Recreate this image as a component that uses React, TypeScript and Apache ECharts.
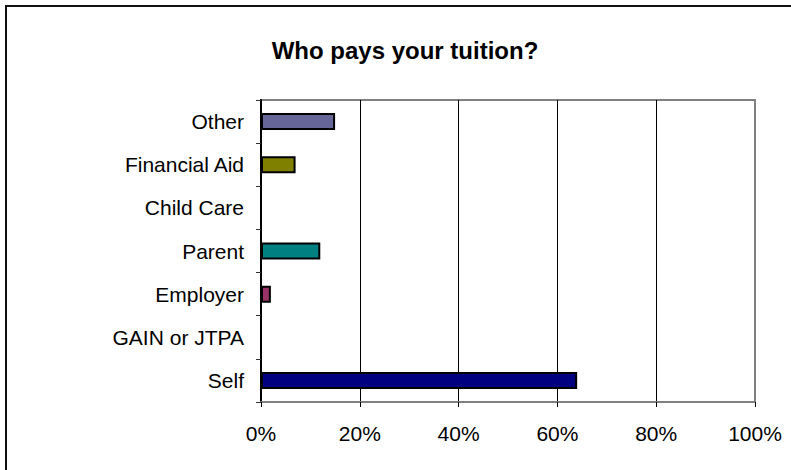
import React, { useEffect, useRef } from "react";
import * as echarts from "echarts";

const titleText = "Who pays your tuition?";
const categories = ["Self", "GAIN or JTPA", "Employer", "Parent", "Child Care", "Financial Aid", "Other"];
const values = [64, 0, 2, 12, 0, 7, 15];
const barColors = ["#000080", "#808080", "#993366", "#008080", "#808080", "#808000", "#666699"];
const xTicks = [0, 20, 40, 60, 80, 100];

export default function App() {
  const ref = useRef<HTMLDivElement>(null);
  useEffect(() => {
    if (!ref.current) return;
    const chart = echarts.init(ref.current, undefined, { renderer: "svg" });
    const font = "Liberation Sans, Arial, sans-serif";
    chart.setOption({
      animation: false,
      backgroundColor: "#ffffff",
      title: {
        text: titleText,
        left: 400,
        top: 33,
        textAlign: "center",
        textStyle: { fontFamily: font, fontSize: 24, fontWeight: "bold", color: "#000" },
      },
      graphic: [
        {
          type: "rect",
          shape: { x: 6, y: 6, width: 820, height: 500 },
          style: { fill: "none", stroke: "#111", lineWidth: 2 },
          silent: true,
        },
      ],
      grid: {
        left: 261,
        right: 36,
        top: 100,
        bottom: 68,
        show: true,
        borderColor: "#808080",
        borderWidth: 2,
        backgroundColor: "transparent",
      },
      xAxis: {
        type: "value",
        min: xTicks[0],
        max: xTicks[xTicks.length - 1],
        interval: 20,
        axisLine: { show: true, onZero: false, lineStyle: { color: "#808080", width: 2 } },
        axisTick: { show: true, length: 5, lineStyle: { color: "#000", width: 1 } },
        axisLabel: {
          formatter: "{value}%",
          fontFamily: font,
          fontSize: 21,
          color: "#000",
          margin: 21,
        },
        splitLine: {
          show: true,
          showMinLine: false,
          showMaxLine: false,
          lineStyle: { color: "#000", width: 1 },
        },
      },
      yAxis: {
        type: "category",
        data: categories,
        axisLine: { show: true, lineStyle: { color: "#000", width: 2 } },
        axisTick: { show: true, length: 5, lineStyle: { color: "#333", width: 1 } },
        axisLabel: { fontFamily: font, fontSize: 21, color: "#000", margin: 17 },
        splitLine: { show: false },
      },
      series: [
        {
          type: "bar",
          barWidth: 17,
          data: values.map((v, i) => ({
            value: v,
            itemStyle: {
              color: barColors[i],
              borderColor: "#000",
              borderWidth: v === 0 ? 0 : 2,
            },
          })),
        },
      ],
    });
    return () => chart.dispose();
  }, []);
  return (
    <div
      ref={ref}
      style={{ position: "absolute", left: 0, top: 0, width: 791, height: 470 }}
    />
  );
}
